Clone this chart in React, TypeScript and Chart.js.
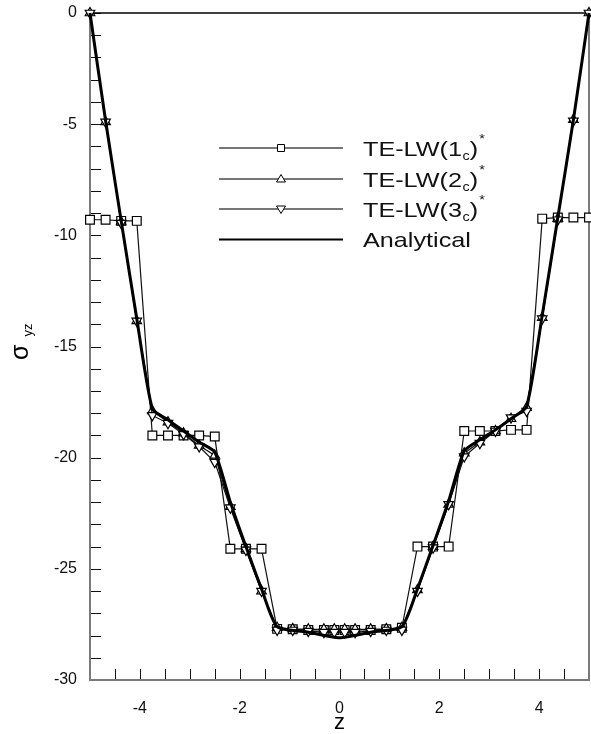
import React, { useEffect, useRef } from "react";
import { Chart, registerables } from "chart.js";

Chart.register(...registerables);

// ---- data ----
const zGrid = [
  -5, -4.6875, -4.375, -4.0625, -3.75, -3.4375, -3.125, -2.8125, -2.5, -2.1875, -1.875, -1.5625,
  -1.25, -0.9375, -0.625, -0.3125, -0.104, 0.104, 0.3125, 0.625, 0.9375, 1.25,
  1.5625, 1.875, 2.1875, 2.5, 2.8125, 3.125, 3.4375, 3.75, 4.0625, 4.375, 4.6875, 5,
];
const te1c = [
  -9.3, -9.3, -9.35, -9.35, -19.0, -19.0, -19.0, -19.0, -19.05, -24.1, -24.1, -24.1,
  -27.7, -27.72, -27.75, -27.75, -27.75, -27.75, -27.75, -27.75, -27.72, -27.65,
  -24.0, -24.0, -24.0, -18.8, -18.8, -18.8, -18.75, -18.75, -9.25, -9.2, -9.2, -9.2,
];
const te2c = [
  0, -4.9, -9.4, -13.85, -17.9, -18.4, -18.9, -19.45, -19.9, -22.2, -24.1, -26.0,
  -27.65, -27.7, -27.72, -27.72, -27.72, -27.72, -27.72, -27.72, -27.7, -27.65,
  -25.95, -24.0, -22.1, -19.8, -19.3, -18.8, -18.25, -17.75, -13.7, -9.25, -4.8, 0,
];
const te3c = [
  0, -4.9, -9.45, -13.85, -18.1, -18.45, -18.95, -19.5, -20.2, -22.25, -24.15, -26.0,
  -27.75, -27.75, -27.8, -27.85, -27.85, -27.85, -27.85, -27.8, -27.75, -27.75,
  -26.0, -24.05, -22.1, -19.95, -19.35, -18.8, -18.2, -17.9, -13.75, -9.3, -4.85, 0,
];
const zAnalytical = [
  -5, -4.6875, -4.375, -4.0625, -3.75, -3.4375, -3.125, -2.8125, -2.5, -2.1875, -1.875, -1.5625,
  -1.25, -0.625, 0, 0.625, 1.25, 1.5625, 1.875, 2.1875, 2.5, 2.8125, 3.125, 3.4375, 3.75,
  4.0625, 4.375, 4.6875, 5,
];
const analytical = [
  0, -4.85, -9.35, -13.75, -17.8, -18.3, -18.8, -19.3, -19.75, -22.0, -24.0, -25.9,
  -27.6, -27.85, -28.1, -27.85, -27.6, -25.9, -23.95, -21.95, -19.7, -19.2, -18.75, -18.25, -17.7,
  -13.6, -9.2, -4.8, 0,
];
const xTickValues = [-4, -2, 0, 2, 4];
const yTickValues = [0, -5, -10, -15, -20, -25, -30];
const legendMain = ["TE-LW(1", "TE-LW(2", "TE-LW(3", "Analytical"];
const legendSub = ["c", "c", "c", ""];
const legendTail = [")", ")", ")", ""];
const legendSup = ["*", "*", "*", ""];
const xTitle = "z";
const yTitleMain = "σ";
const yTitleSub = "yz";

const FONT = "'Liberation Sans', Arial, Helvetica, sans-serif";

const toPts = (xs: number[], ys: number[]) => xs.map((x, i) => ({ x, y: ys[i] }));

const decorPlugin = {
  id: "decor",
  beforeDatasetsDraw(chart: any) {
    const { ctx, chartArea: a, scales } = chart;
    const xs = scales.x;
    const ys = scales.y;
    ctx.save();
    // ticks (inward)
    ctx.strokeStyle = "#111";
    ctx.lineWidth = 1;
    ctx.beginPath();
    for (let v = -30; v <= 0; v += 1) {
      const py = Math.round(ys.getPixelForValue(v)) + 0.5;
      ctx.moveTo(a.left, py);
      ctx.lineTo(a.left + 11, py);
    }
    for (let k = -10; k <= 10; k += 1) {
      const px = Math.round(xs.getPixelForValue(k / 2)) + 0.5;
      ctx.moveTo(px, a.bottom);
      ctx.lineTo(px, a.bottom - 11);
    }
    ctx.stroke();
    // frame
    ctx.lineWidth = 2;
    ctx.strokeStyle = "#7a7a7a";
    ctx.beginPath();
    ctx.moveTo(a.left, a.top);
    ctx.lineTo(a.left, a.bottom);
    ctx.lineTo(a.right, a.bottom);
    ctx.lineTo(a.right, a.top);
    ctx.stroke();
    ctx.strokeStyle = "#000";
    ctx.lineWidth = 1.5;
    ctx.beginPath();
    ctx.moveTo(a.left, a.top);
    ctx.lineTo(a.right, a.top);
    ctx.stroke();
    ctx.restore();
  },
  afterDraw(chart: any) {
    const { ctx, scales } = chart;
    ctx.save();
    // x title
    ctx.fillStyle = "#000";
    ctx.font = `22px ${FONT}`;
    ctx.textAlign = "center";
    ctx.textBaseline = "alphabetic";
    ctx.fillText(xTitle, scales.x.getPixelForValue(0), 729);
    // y title (rotated)
    ctx.save();
    ctx.translate(28, 360);
    ctx.rotate(-Math.PI / 2);
    ctx.textAlign = "left";
    ctx.font = `25px ${FONT}`;
    ctx.fillText(yTitleMain, 0, 0);
    const sw = ctx.measureText(yTitleMain).width;
    ctx.font = `13px ${FONT}`;
    ctx.fillText(yTitleSub, sw + 8, 4);
    ctx.restore();

    // legend
    const rowsY = [148, 179, 209, 239.5];
    const x0 = 219;
    const x1 = 343;
    const mx = 281;
    const tx = 363;
    const stretch = 1.2;
    for (let i = 0; i < 4; i++) {
      const y = rowsY[i];
      ctx.beginPath();
      ctx.strokeStyle = i < 3 ? "#777" : "#000";
      ctx.lineWidth = 2;
      ctx.moveTo(x0, y);
      ctx.lineTo(x1, y);
      ctx.stroke();
      ctx.lineWidth = 1;
      ctx.strokeStyle = "#000";
      ctx.fillStyle = "#fff";
      if (i === 0) {
        ctx.beginPath();
        ctx.rect(mx - 3.5, y - 3.5, 7, 7);
        ctx.fill();
        ctx.stroke();
      } else if (i === 1) {
        ctx.beginPath();
        ctx.moveTo(mx, y - 4.5);
        ctx.lineTo(mx + 4.5, y + 3);
        ctx.lineTo(mx - 4.5, y + 3);
        ctx.closePath();
        ctx.fill();
        ctx.stroke();
      } else if (i === 2) {
        ctx.beginPath();
        ctx.moveTo(mx, y + 4.5);
        ctx.lineTo(mx + 4.5, y - 3);
        ctx.lineTo(mx - 4.5, y - 3);
        ctx.closePath();
        ctx.fill();
        ctx.stroke();
      }
      // text
      ctx.save();
      ctx.translate(tx, y + 7.5);
      ctx.scale(stretch, 1);
      ctx.fillStyle = "#111";
      ctx.textAlign = "left";
      ctx.textBaseline = "alphabetic";
      let cx = 0;
      ctx.font = `21px ${FONT}`;
      ctx.fillText(legendMain[i], cx, 0);
      cx += ctx.measureText(legendMain[i]).width;
      if (legendSub[i]) {
        ctx.font = `12px ${FONT}`;
        ctx.fillText(legendSub[i], cx + 0.5, 4);
        cx += ctx.measureText(legendSub[i]).width + 0.5;
      }
      if (legendTail[i]) {
        ctx.font = `21px ${FONT}`;
        ctx.fillText(legendTail[i], cx, 0);
        cx += ctx.measureText(legendTail[i]).width;
      }
      if (legendSup[i]) {
        ctx.font = `12px ${FONT}`;
        ctx.fillText(legendSup[i], cx + 1, -13);
      }
      ctx.restore();
    }
    ctx.restore();
  },
};

export default function App() {
  const ref = useRef<HTMLCanvasElement | null>(null);
  useEffect(() => {
    document.body.style.margin = "0";
    const canvas = ref.current;
    if (!canvas) return;
    const common = {
      borderColor: "#111",
      borderWidth: 1.2,
      pointBackgroundColor: "#fff",
      pointBorderColor: "#000",
      pointBorderWidth: 1.2,
      tension: 0,
      clip: false as any,
    };
    const chart = new Chart(canvas, {
      type: "line",
      data: {
        datasets: [
          {
            label: "Analytical",
            data: toPts(zAnalytical, analytical),
            borderColor: "#000",
            borderWidth: 3,
            pointRadius: 0,
            tension: 0.2,
            order: 0,
            clip: false as any,
          },
          {
            ...common,
            label: "TE-LW(1c)*",
            data: toPts(zGrid, te1c),
            pointStyle: "rect",
            pointRadius: 6.2,
            order: 3,
          },
          {
            ...common,
            label: "TE-LW(2c)*",
            data: toPts(zGrid, te2c),
            pointStyle: "triangle",
            pointRadius: 5.5,
            order: 2,
          },
          {
            ...common,
            label: "TE-LW(3c)*",
            data: toPts(zGrid, te3c),
            pointStyle: "triangle",
            pointRotation: 180,
            pointRadius: 5.5,
            order: 1,
          },
        ] as any,
      },
      options: {
        animation: false,
        responsive: false,
        devicePixelRatio: 1,
        layout: { autoPadding: false, padding: { left: 0, top: 13, right: 2, bottom: 0 } },
        plugins: { legend: { display: false }, tooltip: { enabled: false } },
        scales: {
          x: {
            type: "linear",
            min: -5,
            max: 5,
            grid: { display: false, drawTicks: false },
            border: { display: false },
            afterBuildTicks: (s: any) => {
              s.ticks = xTickValues.map((v) => ({ value: v }));
            },
            afterFit: (s: any) => {
              s.height = 54;
              s.paddingLeft = 0;
              s.paddingRight = 0;
            },
            ticks: {
              padding: 19,
              color: "#111",
              font: { family: FONT, size: 16 },
              maxRotation: 0,
              callback: (v: any) => String(v),
            },
          },
          y: {
            type: "linear",
            min: -30,
            max: 0,
            grid: { display: false, drawTicks: false },
            border: { display: false },
            afterBuildTicks: (s: any) => {
              s.ticks = yTickValues.map((v) => ({ value: v }));
            },
            afterFit: (s: any) => {
              s.width = 90;
              s.paddingTop = 0;
              s.paddingBottom = 0;
            },
            ticks: {
              padding: 13,
              color: "#111",
              font: { family: FONT, size: 16 },
              callback: (v: any) => String(v),
            },
          },
        },
      } as any,
      plugins: [decorPlugin],
    });
    return () => chart.destroy();
  }, []);
  return (
    <div style={{ width: 591, height: 734, background: "#fff" }}>
      <canvas ref={ref} width={591} height={734} style={{ display: "block" }} />
    </div>
  );
}
